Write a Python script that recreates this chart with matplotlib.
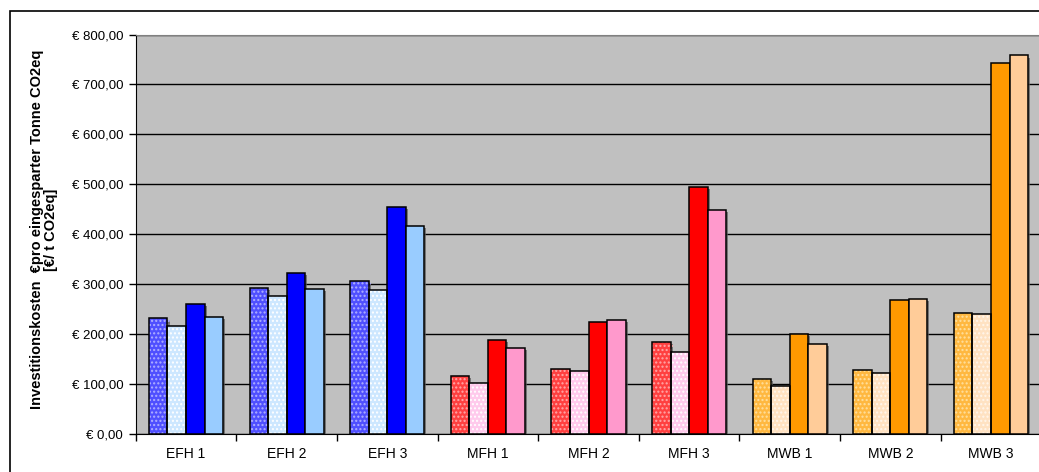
import matplotlib.pyplot as plt
from matplotlib.ticker import FuncFormatter
from matplotlib.patches import Rectangle
import matplotlib.patheffects as pe
import numpy as np

plt.rcParams['font.family'] = ['Liberation Sans', 'DejaVu Sans']

categories = ["EFH 1", "EFH 2", "EFH 3", "MFH 1", "MFH 2", "MFH 3", "MWB 1", "MWB 2", "MWB 3"]

# four variants per building type
var_a = [231, 292, 305, 116, 130, 184, 110, 128, 241]
var_b = [215, 276, 287, 102, 126, 164, 96, 121, 239]
var_c = [260, 322, 455, 188, 224, 495, 200, 267, 742]
var_d = [233, 289, 417, 172, 227, 448, 180, 270, 758]

# colours per building type: (face, dot colour) for patterned bars, plain for solid ones
blue = [("#4f4fff", "#b0b0ff"), ("#cde7ff", "white"), ("#0000ff", None), ("#99ccff", None)]
red = [("#ff4040", "#ffa8a8"), ("#ffcaec", "white"), ("#ff0000", None), ("#ff99cc", None)]
orange = [("#ffb840", "#ffe0a0"), ("#ffe2c2", "#fff6ec"), ("#ff9900", None), ("#ffcc99", None)]
group_colors = [blue] * 3 + [red] * 3 + [orange] * 3

fig = plt.figure(figsize=(10.39, 4.72), dpi=100)
ax = fig.add_axes([135.7 / 1039, 38.5 / 472, 905.6 / 1039, 399 / 472])
ax.set_facecolor("#c0c0c0")

# frame around the whole chart
fig.patches.append(Rectangle((10 / 1039, -0.1), 1.2, (472 - 11) / 472 + 0.1,
                             transform=fig.transFigure, fill=False,
                             edgecolor="black", linewidth=1.2))

x = np.arange(len(categories))
w = 0.184
shadow = [pe.SimplePatchShadow(offset=(1.5, -1.5), shadow_rgbFace="#555555", alpha=0.7),
          pe.Normal()]

series = [var_a, var_b, var_c, var_d]
for k, values in enumerate(series):
    pos = x + (k - 1.5) * w
    faces = [g[k][0] for g in group_colors]
    dots = [g[k][1] for g in group_colors]
    if dots[0] is None:
        bars = ax.bar(pos, values, w, color=faces, edgecolor="black", linewidth=1.1, zorder=3)
        for b in bars:
            b.set_path_effects(shadow)
    else:
        bars = ax.bar(pos, values, w, color=faces, edgecolor=dots, linewidth=0,
                      hatch="....", zorder=3)
        for b in bars:
            b.set_path_effects(shadow)
        ax.bar(pos, values, w, fill=False, edgecolor="black", linewidth=1.1, zorder=4)

ax.set_xlim(-0.5, 8.5)
ax.set_ylim(0, 800)
ax.set_yticks(np.arange(0, 801, 100))
ax.yaxis.set_major_formatter(FuncFormatter(lambda v, p: "€ %d,00" % v))
ax.grid(axis="y", color="black", linewidth=1, zorder=1)

ax.set_xticks(x)
ax.set_xticklabels(categories, fontsize=10)
ax.set_xticks(np.arange(-0.5, 9, 1), minor=True)
ax.tick_params(axis="x", which="major", length=0, pad=10)
ax.tick_params(axis="x", which="minor", length=5, color="black", width=1)
ax.tick_params(axis="y", length=5, color="black", width=1, labelsize=9.5, pad=4)

ax.spines["right"].set_visible(False)
ax.spines["top"].set_color("#808080")
ax.spines["left"].set_color("black")
ax.spines["bottom"].set_color("black")

ax.set_ylabel("Investitionskosten  €pro eingesparter Tonne CO2eq\n[€/ t CO2eq]",
              fontsize=10.5, fontweight="bold", linespacing=1.0)
ax.yaxis.set_label_coords(-0.0858, 0.511)

fig.savefig("out.png", dpi=100)
